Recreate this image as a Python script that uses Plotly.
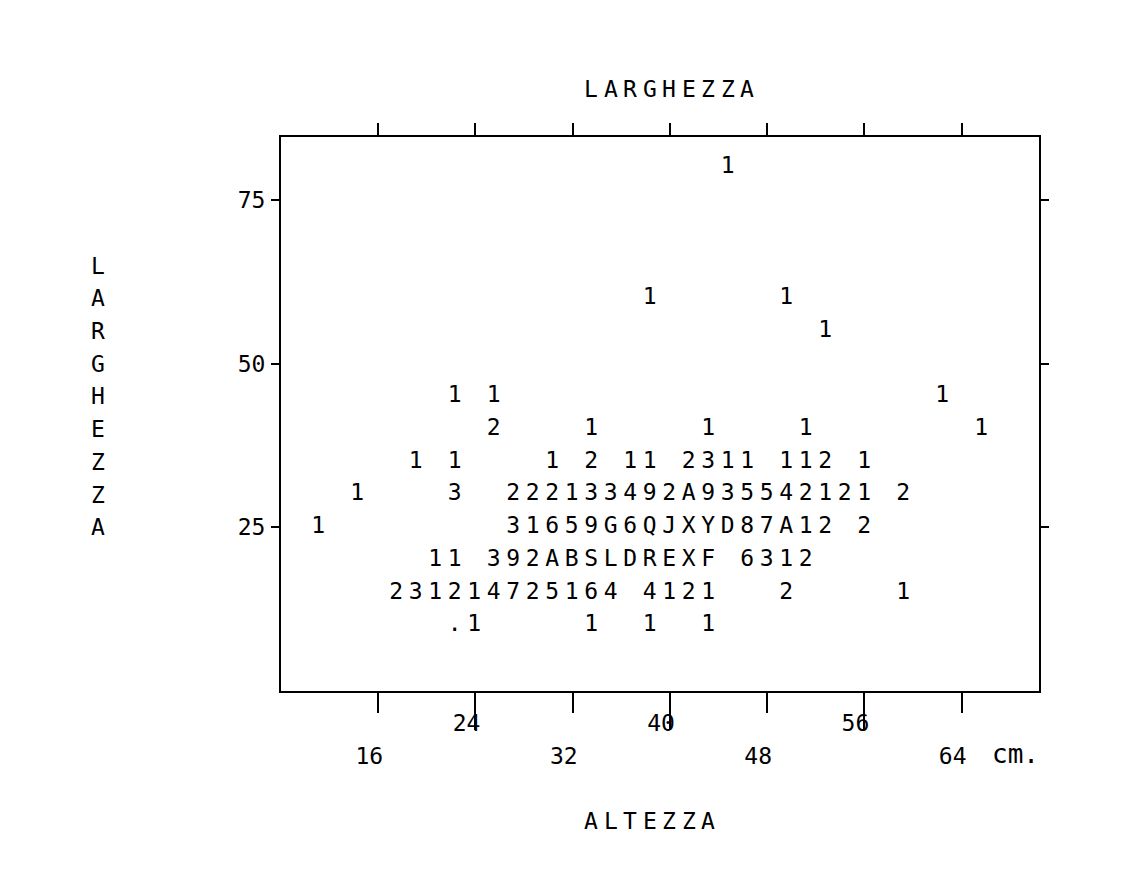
import plotly.graph_objects as go

# ---- data: character-grid scatter (each character = count of cases in a cell) ----
# y level (cm) of each printed row
row_y = [80, 60, 55, 45, 40, 35, 30, 25, 20, 15, 10]
# printed rows; column k of a string is the x-bin k
row_text = [
    "                     1",
    "                 1      1",
    "                          1",
    "       1 1                      1",
    "         2    1     1    1        1",
    "     1 1    1 2 11 2311 112 1",
    "  1    3  222133492A935542121 2",
    "1         31659G6QJXYD87A12 2",
    "      11 392ABSLDREXF 6312",
    "    231214725164 4121   2     1",
    "       .1     1  1  1",
]
# x-bin definition (cm): centre of bin 0 and bin width
x_bin_start = 11.06
x_bin_width = 1.604

x_upper_labels = [24, 40, 56]
x_lower_labels = [16, 32, 48, 64]
x_ticks = sorted(x_upper_labels + x_lower_labels)
y_ticks = [25, 50, 75]
top_title = "LARGHEZZA"
bottom_title = "ALTEZZA"
left_title = "LARGHEZZA"
left_title_rows = [65, 60, 55, 50, 45, 40, 35, 30, 25]

xs, ys, txt = [], [], []
for yv, s in zip(row_y, row_text):
    for k, ch in enumerate(s):
        if ch != " ":
            xs.append(x_bin_start + k * x_bin_width)
            ys.append(yv)
            txt.append(ch)

FONT = "DejaVu Sans Mono"
FS = 23
X_RANGE = [8.0, 70.36]
Y_RANGE = [0, 84.64]
BLACK = "black"

fig = go.Figure()
fig.add_trace(go.Scatter(
    x=xs, y=ys, text=txt, mode="text",
    textposition="middle center",
    textfont=dict(family=FONT, size=FS, color=BLACK),
    hoverinfo="skip", showlegend=False,
))
# invisible traces to activate overlay axes
fig.add_trace(go.Scatter(x=[None], y=[None], xaxis="x2", yaxis="y", showlegend=False))
fig.add_trace(go.Scatter(x=[None], y=[None], xaxis="x3", yaxis="y", showlegend=False))
fig.add_trace(go.Scatter(x=[None], y=[None], xaxis="x", yaxis="y2", showlegend=False))

base = dict(showgrid=False, zeroline=False, tickcolor=BLACK, tickwidth=2,
            linecolor=BLACK, linewidth=2,
            tickfont=dict(family=FONT, size=FS, color=BLACK))

fig.update_layout(
    width=1127, height=873,
    paper_bgcolor="white", plot_bgcolor="white",
    margin=dict(l=273, r=96, t=129, b=190, autoexpand=False),
    # bottom axis: short ticks, lower row of labels
    xaxis=dict(range=X_RANGE, tickvals=x_lower_labels,
               ticktext=[str(v) for v in x_lower_labels],
               ticks="outside", ticklen=20, showline=True,
               ticklabelstandoff=23, ticklabelshift=-9, **base),
    # bottom overlay: long ticks running into the upper row of labels
    xaxis3=dict(range=X_RANGE, overlaying="x", side="bottom", anchor="y",
                tickvals=x_upper_labels, ticktext=[str(v) for v in x_upper_labels],
                ticks="outside", ticklen=38, showline=False,
                ticklabelstandoff=-27, ticklabelshift=-9, **base),
    xaxis2=dict(range=X_RANGE, overlaying="x", side="top", anchor="y",
                tickvals=x_ticks, ticks="outside", ticklen=12, showticklabels=False,
                showline=True, **base),
    yaxis=dict(range=Y_RANGE, tickvals=y_ticks, ticks="outside", ticklen=8,
               showline=True, ticklabelstandoff=1, **base),
    yaxis2=dict(range=Y_RANGE, overlaying="y", side="right", anchor="x",
                tickvals=y_ticks, ticks="outside", ticklen=8, showticklabels=False,
                showline=True, **base),
)

tfont = dict(family=FONT, size=FS, color=BLACK)
annotations = []
# axis titles printed on the same character grid as the data
for i, ch in enumerate(top_title):
    annotations.append(dict(text=ch, xref="x", yref="paper",
                            x=x_bin_start + (14 + i) * x_bin_width, y=1.0861,
                            showarrow=False, xanchor="center", yanchor="middle", font=tfont))
for i, ch in enumerate(bottom_title):
    annotations.append(dict(text=ch, xref="x", yref="paper",
                            x=x_bin_start + (14 + i) * x_bin_width, y=-0.2352,
                            showarrow=False, xanchor="center", yanchor="middle", font=tfont))
for ch, yv in zip(left_title, left_title_rows):
    annotations.append(dict(text=ch, xref="paper", yref="y", x=-0.2414, y=yv,
                            showarrow=False, xanchor="center", yanchor="middle", font=tfont))
annotations.append(dict(text="cm.", xref="x", yref="paper", x=64, y=0, xshift=28, yshift=-63,
                        showarrow=False, xanchor="left", yanchor="middle",
                        font=dict(family=FONT, size=26, color=BLACK)))
fig.update_layout(annotations=annotations)

fig.write_html("out.html")
